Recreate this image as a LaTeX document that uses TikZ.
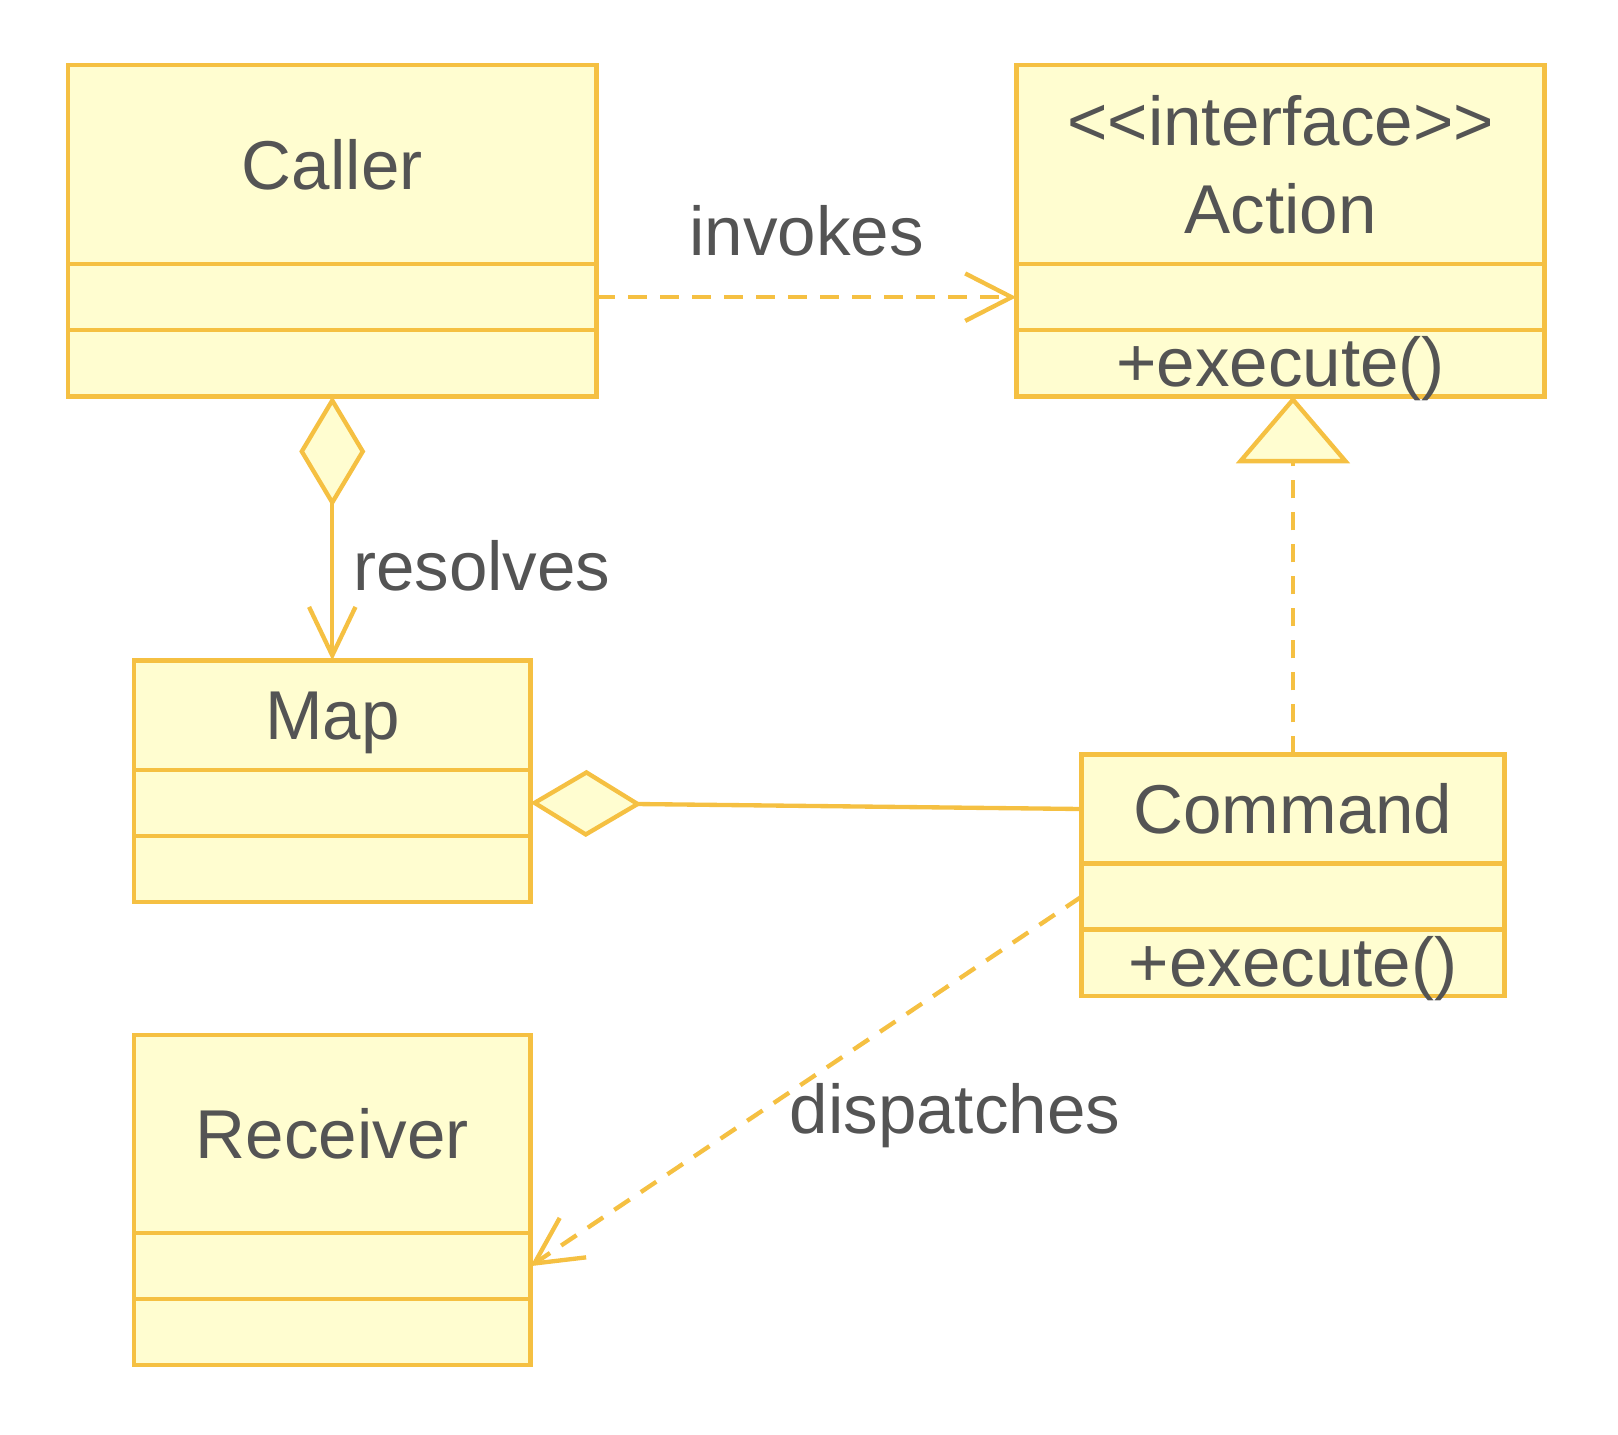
\documentclass[tikz,border=0pt]{standalone}
\usepackage{fontspec}
\setmainfont{Liberation Sans}
\usepackage{tikz}
\usepackage{xcolor}
\usetikzlibrary{arrows.meta,positioning}

\definecolor{umlline}{RGB}{245,192,66}
\definecolor{umlfill}{RGB}{255,253,208}
\definecolor{umltext}{RGB}{84,84,84}

\tikzset{
  umlbox/.style={draw=umlline, fill=umlfill, line width=4.4pt, inner sep=0pt,
    outer sep=0pt, text=umltext, align=center},
  umlhead/.style={umlbox, text height=48pt, text depth=0pt},
  umlrow/.style={umlbox, minimum height=64pt, text height=46pt, text depth=0pt},
  umlrel/.style={draw=umlline, line width=4.2pt},
  umldep/.style={umlrel, dash pattern=on 18pt off 13pt},
  umltag/.style={text=umltext, inner sep=0pt}
}

\begin{document}
\begin{tikzpicture}[x=1pt, y=1pt, font=\fontsize{67pt}{85pt}\selectfont]
  \useasboundingbox (0,0) rectangle (1568,-1390);

  % Caller
  \node[umlhead, minimum width=512pt, minimum height=193pt] (caller) at (322,-159.5) {Caller};
  \node[umlrow, minimum width=512pt, below=0pt of caller] (caller-attr) {};
  \node[umlrow, minimum width=512pt, below=0pt of caller-attr] (caller-ops) {};

  % Action, the interface
  \node[umlbox, minimum width=512pt, minimum height=193pt] (action) at (1241,-159.5)
    {<\kern0pt<interface>\kern0pt>\\Action};
  \node[umlrow, minimum width=512pt, below=0pt of action] (action-attr) {};
  \node[umlrow, minimum width=512pt, below=0pt of action-attr] (action-ops) {+execute()};

  % Map
  \node[umlhead, minimum width=384pt, minimum height=106pt] (map) at (322,-693) {Map};
  \node[umlrow, minimum width=384pt, below=0pt of map] (map-attr) {};
  \node[umlrow, minimum width=384pt, below=0pt of map-attr] (map-ops) {};

  % Command
  \node[umlhead, minimum width=410pt, minimum height=106pt] (cmd) at (1253,-784) {Command};
  \node[umlrow, minimum width=410pt, below=0pt of cmd] (cmd-attr) {};
  \node[umlrow, minimum width=410pt, below=0pt of cmd-attr] (cmd-ops) {+execute()};

  % Receiver
  \node[umlhead, minimum width=384pt, minimum height=192pt] (rcv) at (322,-1099) {Receiver};
  \node[umlrow, minimum width=384pt, below=0pt of rcv] (rcv-attr) {};
  \node[umlrow, minimum width=384pt, below=0pt of rcv-attr] (rcv-ops) {};

  % relations
  \draw[umldep, -{Straight Barb[length=45pt,width=46pt]}] (caller-attr.east)
    -- node[umltag, above=38pt] (invokes-lbl) {invokes} (action-attr.west);
  \draw[umlrel, {Diamond[length=107pt,width=64pt,fill=umlfill]}-{Straight Barb[length=47pt,width=45pt]}]
    (caller-ops.south) -- node[umltag, pos=0.735, anchor=base west, xshift=18pt] (resolves-lbl) {resolves} (map.north);
  \draw[umldep, -{Triangle[length=65pt,width=110pt,fill=umlfill]}] (cmd.north) -- (cmd.north |- action-ops.south);
  \draw[umlrel, {Diamond[length=108pt,width=65pt,fill=umlfill]}-] (map-attr.east) -- (cmd.west);
  \draw[umldep, -{Straight Barb[length=45pt,width=46pt]}] (cmd-attr.west)
    -- node[umltag, pos=0.64, anchor=base west, xshift=57pt] (dispatches-lbl) {dispatches} (rcv-attr.east);
\end{tikzpicture}
\end{document}
